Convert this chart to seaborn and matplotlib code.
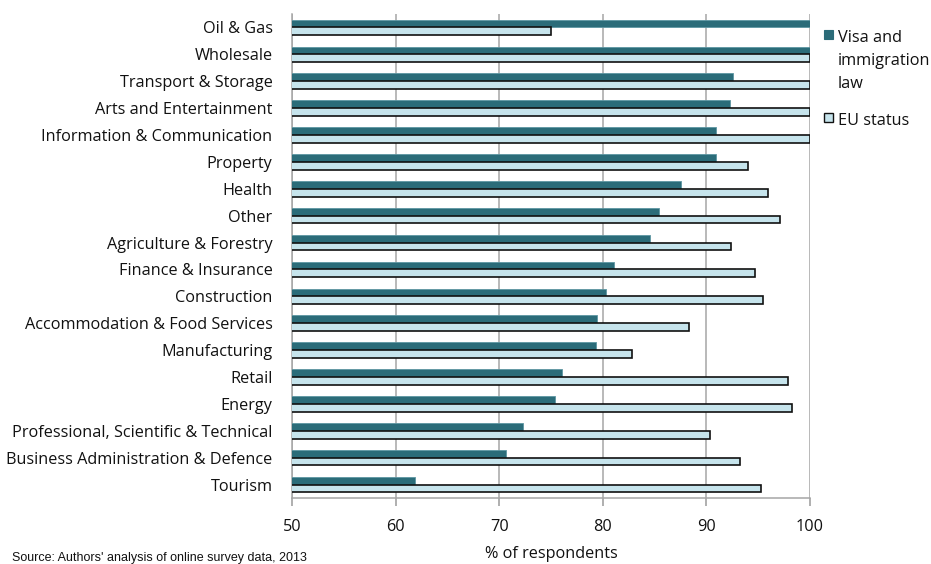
import matplotlib
matplotlib.use("Agg")
import matplotlib.pyplot as plt
import seaborn as sns
import pandas as pd

sectors = [
    "Oil & Gas", "Wholesale", "Transport & Storage", "Arts and Entertainment",
    "Information & Communication", "Property", "Health", "Other",
    "Agriculture & Forestry", "Finance & Insurance", "Construction",
    "Accommodation & Food Services", "Manufacturing", "Retail", "Energy",
    "Professional, Scientific & Technical", "Business Administration & Defence",
    "Tourism",
]
visa_law = [100, 100, 92.6, 92.3, 90.9, 90.9, 87.5, 85.4, 84.6, 81.1, 80.3,
            79.4, 79.3, 76.1, 75.4, 72.3, 70.7, 61.9]
eu_status = [75.0, 100, 100, 100, 100, 94.0, 95.9, 97.1, 92.4, 94.7, 95.5,
             88.3, 82.8, 97.9, 98.3, 90.3, 93.2, 95.3]
series_names = ["Visa and immigration law", "EU status"]
legend_lines = [["Visa and", "immigration", "law"], ["EU status"]]
x_ticks = [50, 60, 70, 80, 90, 100]

df = pd.DataFrame({
    "sector": sectors * 2,
    "value": visa_law + eu_status,
    "series": [series_names[0]] * len(sectors) + [series_names[1]] * len(sectors),
})

sns.set_theme(style="white")
plt.rcParams["font.family"] = ["Open Sans", "DejaVu Sans"]

teal = "#2B6C79"
pale = "#C6E4EC"
W, H = 931, 564
fs = 11.7

fig = plt.figure(figsize=(W / 100, H / 100), dpi=100)
ax = fig.add_axes([292 / W, 1 - 498 / H, (810 - 292) / W, (498 - 14) / H])

sns.barplot(data=df, y="sector", x="value", hue="series", order=sectors,
            hue_order=series_names, palette=[teal, pale], orient="h",
            width=0.58, dodge=True, saturation=1, legend=False, ax=ax, zorder=3)

for bar in ax.patches[:len(sectors)]:
    bar.set_edgecolor("#5E96A2")
    bar.set_linewidth(0.6)
for bar in ax.patches[len(sectors):2 * len(sectors)]:
    bar.set_edgecolor("#111111")
    bar.set_linewidth(1.2)

ax.set_xlim(50, 100)
ax.set_ylim(len(sectors) - 0.5, -0.5)
ax.set_xticks(x_ticks)
ax.xaxis.grid(True, color="#A6A6A6", linewidth=1.1, zorder=0)
ax.yaxis.grid(False)
for side in ["top", "right"]:
    ax.spines[side].set_visible(False)
for side in ["left", "bottom"]:
    ax.spines[side].set_color("#A6A6A6")
    ax.spines[side].set_linewidth(1.1)
ax.tick_params(axis="x", bottom=True, length=6, color="#A6A6A6", labelsize=fs,
               pad=9, labelcolor="#111111")
ax.tick_params(axis="y", left=False, labelsize=fs, pad=8, labelcolor="#111111")
ax.set_ylabel("")
ax.set_xlabel("% of respondents", fontsize=fs, labelpad=8, color="#111111")

# Legend drawn beside the plot: a swatch per series with its wrapped label
swatch = 9
legend_rows = [(30, teal, "#2B6C79", 0.8), (113, pale, "#111111", 1.0)]
for (top, face, edge, lw), lines in zip(legend_rows, legend_lines):
    fig.patches.append(plt.Rectangle((824 / W, 1 - (top + swatch) / H),
                                     swatch / W, swatch / H, facecolor=face,
                                     edgecolor=edge, linewidth=lw,
                                     transform=fig.transFigure, figure=fig))
    for i, line in enumerate(lines):
        fig.text(838 / W, 1 - (top + 12 + i * 23) / H, line, fontsize=fs,
                 color="#111111", va="baseline", ha="left")

fig.text(12 / W, 1 - 561 / H, "Source: Authors' analysis of online survey data, 2013",
         fontsize=9, family=["Liberation Sans", "DejaVu Sans"], va="baseline",
         color="#111111")

fig.savefig("out.png", dpi=100)
